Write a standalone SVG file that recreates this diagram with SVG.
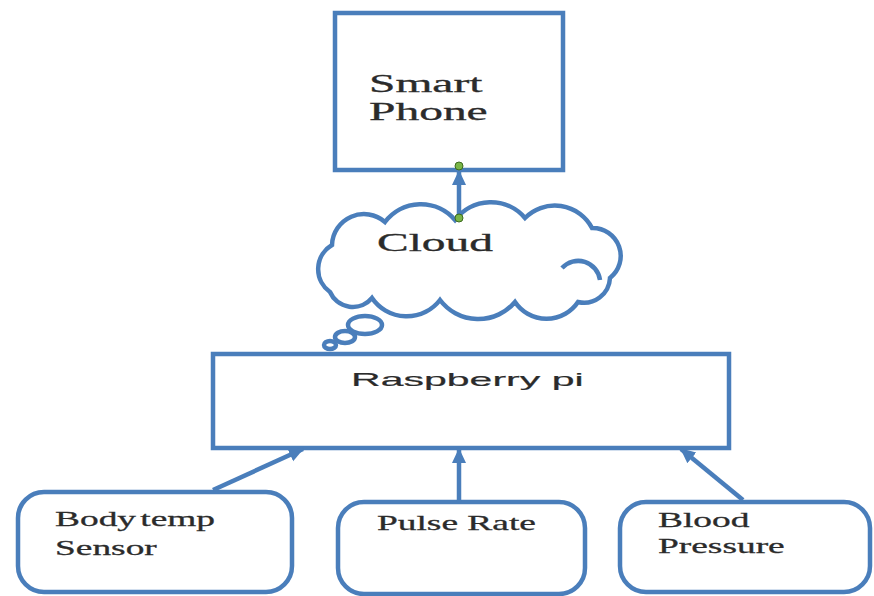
<svg xmlns="http://www.w3.org/2000/svg" width="874" height="596" viewBox="0 0 874 596">
<style>
.box{fill:#fff;stroke:#4A7EBB;stroke-width:4.5}
.con{stroke:#4A7EBB;stroke-width:4.5;fill:none}
.serif{font-family:"Liberation Serif","Times New Roman",serif;fill:#2b2b2b;stroke:#2b2b2b;stroke-width:0.3}
.sans{font-family:"Liberation Sans",Arial,sans-serif;fill:#2b2b2b;stroke:#2b2b2b;stroke-width:0.2}
.dot{fill:#7AB648;stroke:#3d6b1f;stroke-width:1}
</style>
<defs>
<marker id="ah" markerUnits="userSpaceOnUse" markerWidth="16" markerHeight="16" viewBox="0 0 16 16" refX="14" refY="8" orient="auto">
<path d="M0,1 L15,8 L0,15 Z" fill="#4A7EBB"/>
</marker>
</defs>
<rect width="874" height="596" fill="#fff"/>
<g id="smartphone">
<rect class="box" x="335" y="13" width="228" height="157"/>
<text class="serif" font-size="25" transform="translate(369,92) scale(1.9,1)">Smart</text>
<text class="serif" font-size="25" transform="translate(369,120) scale(1.9,1)">Phone</text>
</g>
<g id="cloud">
<path class="box" d="M330,292 A28,28 0 0 1 332,245 A32,32 0 0 1 385,222 A45,45 0 0 1 455,220 A45,45 0 0 1 525,218 A42,42 0 0 1 592,228 A28,28 0 0 1 610,278 A26,26 0 0 1 578,302 A38,38 0 0 1 515,302 A48,48 0 0 1 440,300 A42,42 0 0 1 372,298 A25,25 0 0 1 330,292 Z"/>
<path class="con" d="M562,268 A22,22 0 0 1 600,280"/>
<ellipse class="box" cx="365" cy="325" rx="17" ry="9"/>
<ellipse class="box" cx="345" cy="337" rx="10" ry="6"/>
<ellipse class="box" cx="330" cy="345" rx="6" ry="4"/>
<text class="serif" font-size="25" transform="translate(377,251) scale(1.9,1)">Cloud</text>
</g>
<g id="raspberry">
<rect class="box" x="213" y="354" width="516" height="94"/>
<text class="sans" font-size="19" transform="translate(351,386) scale(2.16,1)">Raspberry pi</text>
</g>
<g id="bodytemp">
<rect class="box" x="18" y="492" width="274" height="100" rx="26"/>
<text class="serif" font-size="22" word-spacing="-3" transform="translate(55,526) scale(1.7,1)">Body temp</text>
<text class="serif" font-size="22" transform="translate(55,555) scale(1.7,1)">Sensor</text>
</g>
<g id="pulserate">
<rect class="box" x="338" y="502" width="247" height="92" rx="26"/>
<text class="serif" font-size="22" transform="translate(377,530) scale(1.7,1)">Pulse Rate</text>
</g>
<g id="bloodpressure">
<rect class="box" x="620" y="502" width="250" height="90" rx="26"/>
<text class="serif" font-size="22" transform="translate(658,527) scale(1.7,1)">Blood</text>
<text class="serif" font-size="22" transform="translate(658,553) scale(1.7,1)">Pressure</text>
</g>
<g id="connectors">
<line class="con" x1="459" y1="218" x2="459" y2="171" marker-end="url(#ah)"/>
<circle class="dot" cx="459" cy="166" r="4"/>
<circle class="dot" cx="459" cy="218" r="4"/>
<line class="con" x1="213" y1="490" x2="303" y2="449" marker-end="url(#ah)"/>
<line class="con" x1="459" y1="502" x2="459" y2="449" marker-end="url(#ah)"/>
<line class="con" x1="743" y1="500" x2="681" y2="449" marker-end="url(#ah)"/>
</g>
</svg>
